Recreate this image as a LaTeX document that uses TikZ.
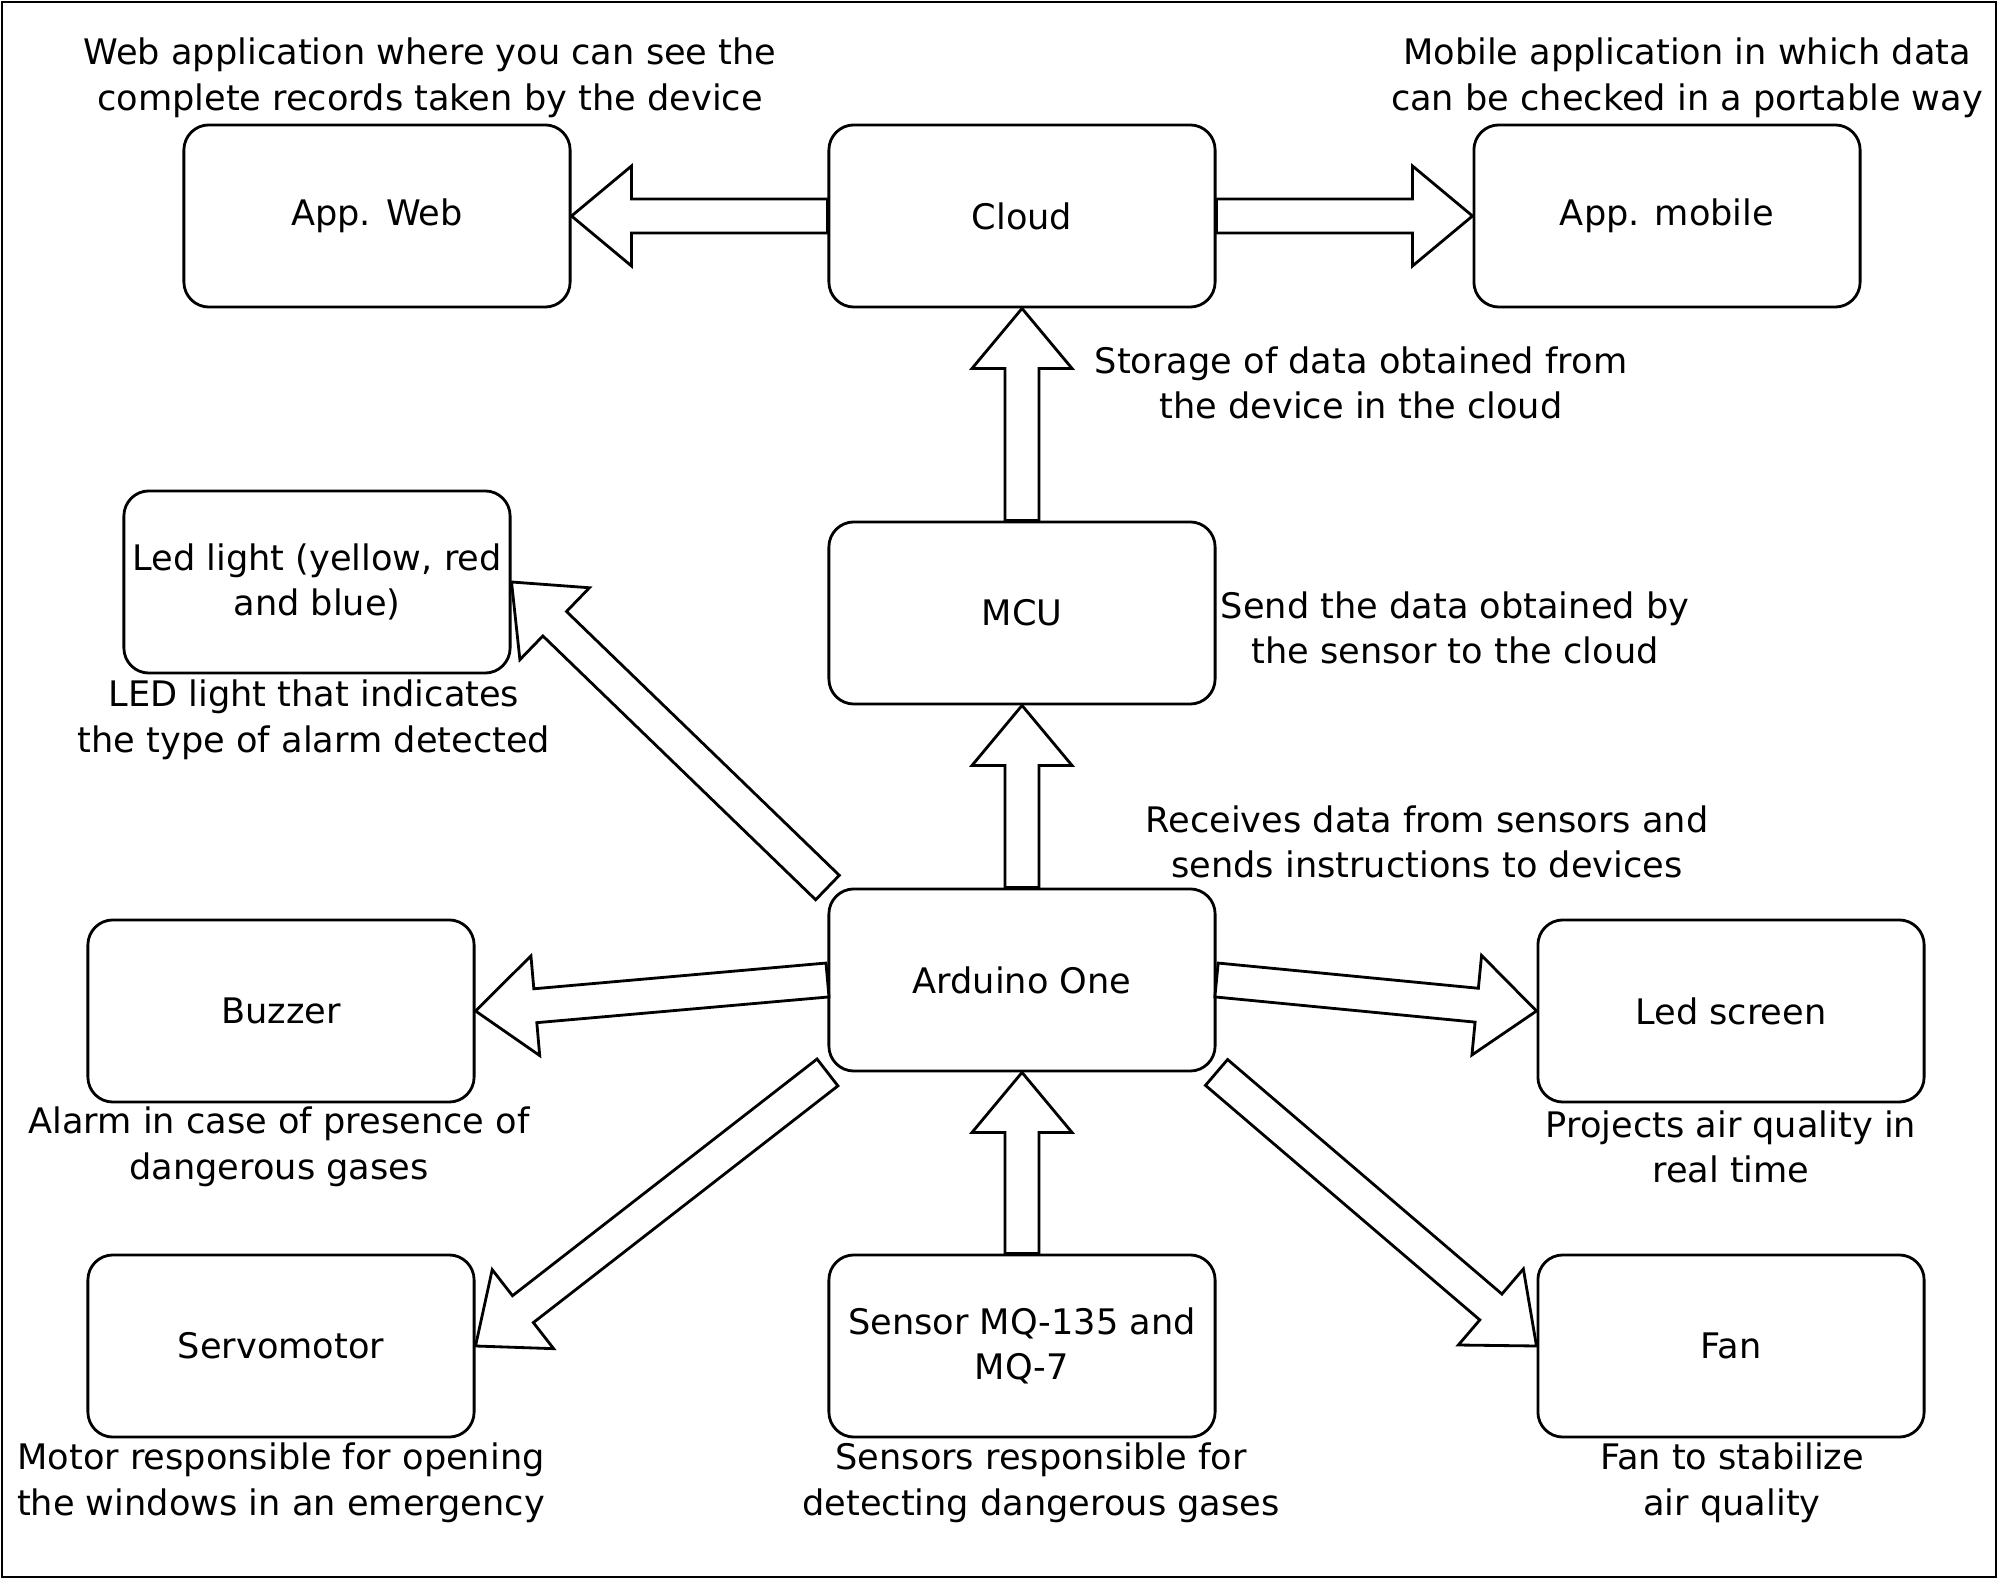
\documentclass[tikz,border=0pt]{standalone}
\usepackage{fontspec}
\setmainfont{DejaVu Sans}
\usetikzlibrary{calc}
\newcommand{\shaftw}{0.17cm}
\newcommand{\headw}{0.5cm}
\newcommand{\headl}{0.6cm}
\newcommand{\blockarrow}[2]{%
  \coordinate (hb) at ($(#2)!\headl!(#1)$);
  \draw[blockarr] ($(#1)!\shaftw!90:(#2)$) -- ($(hb)!\shaftw!90:(#2)$) -- ($(hb)!\headw!90:(#2)$) -- (#2)
    -- ($(hb)!\headw!-90:(#2)$) -- ($(hb)!\shaftw!-90:(#2)$) -- ($(#1)!\shaftw!-90:(#2)$) -- cycle;}
\begin{document}
\begin{tikzpicture}[x=0.01cm,y=-0.01cm,line join=miter,font=\fontsize{10}{13}\selectfont]
			\tikzstyle{box}=[draw,rounded corners=0.25cm,minimum width=3.86cm,minimum height=1.82cm,inner xsep=1pt,line width=0.8pt,align=center]
			\tikzstyle{note}=[align=center,inner sep=0pt]
			\tikzstyle{blockarr}=[draw,fill=white,line width=0.8pt]
			\useasboundingbox (0,0) rectangle (2000,1580);
			\draw[line width=0.6pt] (2,2) rectangle (1996,1577);
			\foreach \d/\x/\y/\t in {web/377/216/{App. Web}, cloud/1022/216/Cloud, mobile/1667/216/{App. mobile},
				led/317/582/{Led light (yellow, red\\and blue)}, mcu/1022/613/MCU, buzzer/281/1011/Buzzer,
				arduino/1022/980/{Arduino One}, screen/1731/1011/{Led screen}, servo/281/1346/Servomotor,
				sensor/1022/1346/{Sensor MQ-135 and\\MQ-7}, fan/1731/1346/Fan} {\node[box] (\d) at (\x,\y) {\t};}
			\foreach \d/\x/\y/\t in {lweb/430/78/{Web application where you can see the\\complete records taken by the device},
				lmobile/1687/78/{Mobile application in which data\\can be checked in a portable way},
				lcloud/1361/383/{Storage of data obtained from\\the device in the cloud},
				lmcu/1455/628/{Send the data obtained by\\the sensor to the cloud},
				lled/314/720/{LED light that indicates\\the type of alarm detected},
				larduino/1427/842/{Receives data from sensors and\\sends instructions to devices},
				lbuzzer/279/1147/{Alarm in case of presence of\\dangerous gases},
				lscreen/1731/1147/{Projects air quality in\\real time},
				lservo/281/1483/{Motor responsible for opening\\the windows in an emergency},
				lsensor/1041/1483/{Sensors responsible for\\detecting dangerous gases},
				lfan/1732/1483/{Fan to stabilize\\air quality}} {\node[note] (\d) at (\x,\y) {\t};}
			\foreach \a/\b in {cloud.west/web.east, cloud.east/mobile.west, mcu.north/cloud.south, arduino.north/mcu.south,
				sensor.north/arduino.south, arduino.north west/led.east, arduino.west/buzzer.east, arduino.east/screen.west,
				arduino.south west/servo.east, arduino.south east/fan.west} {\blockarrow{\a}{\b}}
		\end{tikzpicture}
\end{document}
